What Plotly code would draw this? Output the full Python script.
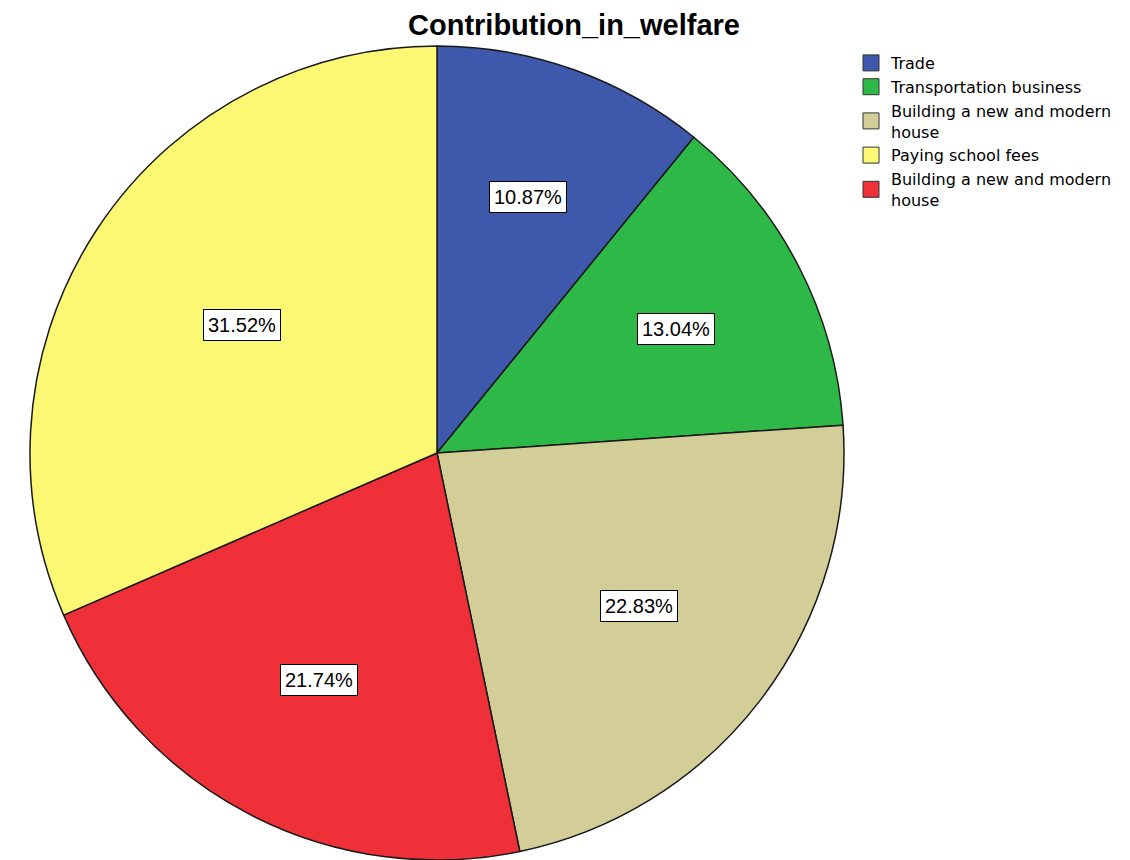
import math
import plotly.graph_objects as go

# Slices in drawing order, clockwise from 12 o'clock
categories = [
    "Trade",
    "Transportation business",
    "Building a new and modern house",
    "Building a new and modern house",
    "Paying school fees",
]
percentages = [10.87, 13.04, 22.83, 21.74, 31.52]
slice_colors = ["#3E58AC", "#2EB848", "#D3CE97", "#EF3038", "#FBF873"]

# Order in which the categories are listed in the legend
legend_order = [0, 1, 2, 4, 3]
legend_names = [
    "Trade",
    "Transportation business",
    "Building a new and modern<br>house",
    "Building a new and modern<br>house",
    "Paying school fees",
]

W, H = 1130, 860
dom_x = [30 / W, 844 / W]
dom_y = [0.0, 814 / H]

fig = go.Figure()

# Distinct slice keys so the two identically named categories stay separate
slice_keys = [f"{name} #{i + 1}" for i, name in enumerate(categories)]

fig.add_trace(go.Pie(
    labels=slice_keys,
    values=percentages,
    hovertext=categories,
    hoverinfo="text+percent",
    sort=False,
    direction="clockwise",
    rotation=0,
    textinfo="none",
    marker=dict(colors=slice_colors, line=dict(color="#1a1a1a", width=1.5)),
    showlegend=False,
    domain=dict(x=dom_x, y=dom_y),
))

# Legend entries (square swatches) in the legend's own order
for idx in legend_order:
    fig.add_trace(go.Scatter(
        x=[None], y=[None],
        mode="markers",
        name=legend_names[idx],
        marker=dict(symbol="square", size=16, color=slice_colors[idx],
                    line=dict(color="#333333", width=1)),
        showlegend=True,
        hoverinfo="skip",
    ))

# Percentage boxes placed at each slice's area centroid
cx_pix = (dom_x[0] + dom_x[1]) / 2 * W
radius = min((dom_x[1] - dom_x[0]) * W, (dom_y[1] - dom_y[0]) * H) / 2
cy_pix = H - ((dom_y[0] + dom_y[1]) / 2 * H)
total = sum(percentages)
cum = 0.0
annotations = []
for p in percentages:
    half = p / total * math.pi  # half of the slice angle
    mid = (cum / total) * 2 * math.pi + half
    cum += p
    dist = (2.0 / 3.0) * radius * math.sin(half) / half * 1.02
    px = cx_pix + dist * math.sin(mid)
    py = cy_pix - dist * math.cos(mid)
    annotations.append(dict(
        x=px / W, y=1 - py / H, xref="paper", yref="paper",
        text=f"{p:.2f}%", showarrow=False,
        font=dict(family="Liberation Sans, Arial, sans-serif", size=20, color="#000000"),
        bgcolor="#FFFFFF", bordercolor="#000000", borderwidth=1, borderpad=4,
        xanchor="center", yanchor="middle",
    ))

fig.update_layout(
    width=W, height=H,
    margin=dict(l=0, r=0, t=0, b=0),
    paper_bgcolor="#FFFFFF",
    plot_bgcolor="#FFFFFF",
    title=dict(
        text="Contribution_in_welfare",
        x=574 / W, y=1 - 25 / H, xanchor="center", yanchor="middle",
        font=dict(family="Liberation Sans, Arial, sans-serif", size=29,
                  color="#000000", weight=700),
    ),
    xaxis=dict(visible=False),
    yaxis=dict(visible=False),
    legend=dict(
        x=851 / W, y=1 - 46 / H, xanchor="left", yanchor="top",
        font=dict(family="DejaVu Sans, sans-serif", size=16, color="#000000"),
        bgcolor="rgba(0,0,0,0)", borderwidth=0,
        itemclick=False, itemdoubleclick=False,
    ),
    annotations=annotations,
    showlegend=True,
)

fig.write_html("out.html")
